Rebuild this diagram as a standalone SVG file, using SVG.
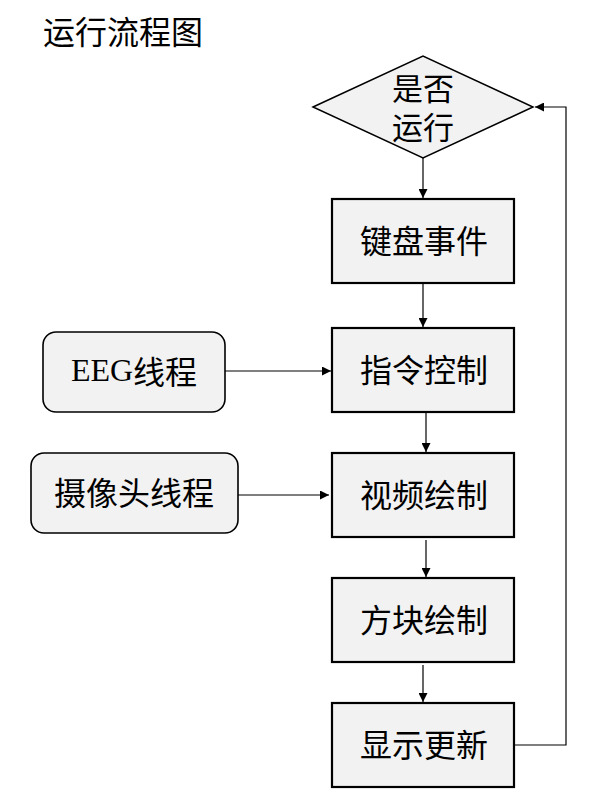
<svg xmlns="http://www.w3.org/2000/svg" width="598" height="811" viewBox="0 0 598 811">
<defs>
<marker id="arr" viewBox="0 0 10 10" refX="10" refY="5" markerWidth="10" markerHeight="9" markerUnits="userSpaceOnUse" orient="auto">
<path d="M0,0 L10,5 L0,10 Z" fill="#000"/>
</marker>
</defs>
<style>
.box{fill:#f2f2f2;stroke:#000;stroke-width:2.2}
.rbox{fill:#f2f2f2;stroke:#000;stroke-width:1.6}
.dia{fill:#f2f2f2;stroke:#000;stroke-width:1.5}
.t{font-family:"Noto Sans CJK SC","Microsoft YaHei",sans-serif;font-size:32px;fill:#000;text-anchor:middle;dominant-baseline:central}
.d{font-size:31px}
.e{font-family:"Liberation Serif","Noto Sans CJK SC",serif}
.ln{fill:none;stroke:#000;stroke-width:1.2}
</style>
<rect width="598" height="811" fill="#fff"/>
<text x="43" y="30" class="t" style="text-anchor:start">运行流程图</text>
<g id="connectors">
<line class="ln" x1="423" y1="158" x2="423" y2="198" marker-end="url(#arr)"/>
<line class="ln" x1="423" y1="284" x2="423" y2="327" marker-end="url(#arr)"/>
<line class="ln" x1="426" y1="413" x2="426" y2="452" marker-end="url(#arr)"/>
<line class="ln" x1="426" y1="540" x2="426" y2="577" marker-end="url(#arr)"/>
<line class="ln" x1="423" y1="665" x2="423" y2="702" marker-end="url(#arr)"/>
<line class="ln" x1="225" y1="371" x2="331" y2="371" marker-end="url(#arr)"/>
<line class="ln" x1="238" y1="495" x2="329" y2="495" marker-end="url(#arr)"/>
<polyline class="ln" points="514,745 566,745 566,107 535,107" marker-end="url(#arr)"/>
</g>
<g id="decision">
<polygon class="dia" points="313,107 423,56 533,107 423,158"/>
<text x="423" y="86" class="t d">是否</text>
<text x="423" y="125" class="t d">运行</text>
</g>
<g id="keyboard">
<rect class="box" x="332" y="199" width="182" height="84"/>
<text x="424" y="239" class="t">键盘事件</text>
</g>
<g id="command">
<rect class="box" x="332" y="328" width="182" height="84"/>
<text x="424" y="368" class="t">指令控制</text>
</g>
<g id="video">
<rect class="box" x="332" y="453" width="182" height="84"/>
<text x="424" y="493" class="t">视频绘制</text>
</g>
<g id="block">
<rect class="box" x="332" y="578" width="182" height="84"/>
<text x="424" y="618" class="t">方块绘制</text>
</g>
<g id="display">
<rect class="box" x="332" y="703" width="182" height="84"/>
<text x="424" y="743" class="t">显示更新</text>
</g>
<g id="eeg">
<rect class="rbox" x="43" y="332" width="182" height="80" rx="13"/>
<text x="134" y="370" class="t"><tspan class="e">EEG</tspan>线程</text>
</g>
<g id="camera">
<rect class="rbox" x="31" y="453" width="207" height="80" rx="13"/>
<text x="134" y="491" class="t">摄像头线程</text>
</g>
</svg>
